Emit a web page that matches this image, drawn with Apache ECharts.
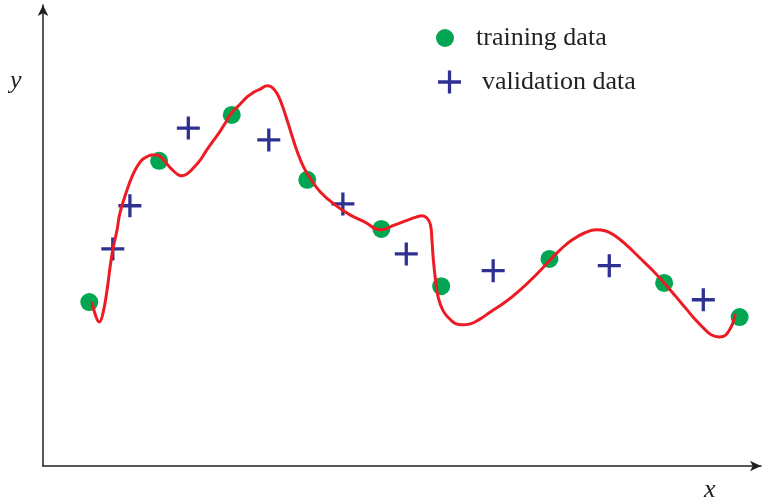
<!DOCTYPE html>
<html>
<head>
<meta charset="utf-8">
<script src="https://cdn.jsdelivr.net/npm/echarts@6/dist/echarts.min.js"></script>
<style>
  html, body { margin: 0; padding: 0; background: #fff; }
  #chart { width: 762px; height: 500px; }
</style>
</head>
<body>
<div id="chart"></div>
<script>
// Training samples (x, y)
const trainX = [0.65, 1.63, 2.65, 3.71, 4.75, 5.59, 7.11, 8.72, 9.78];
const trainY = [3.61, 6.72, 7.73, 6.30, 5.22, 3.96, 4.56, 4.03, 3.28];

// Validation samples (x, y)
const validX = [0.98, 1.22, 2.04, 3.17, 4.21, 5.10, 6.32, 7.95, 9.27];
const validY = [4.78, 5.73, 7.44, 7.18, 5.77, 4.67, 4.30, 4.41, 3.66];

// Over-fitted model curve (x, y)
const fitX = [0.69, 0.73, 0.79, 0.84, 0.90, 0.94, 0.98, 1.04, 1.08, 1.18, 1.26, 1.32, 1.39, 1.46, 1.53, 1.60,
  1.67, 1.74, 1.83, 1.90, 1.95, 2.02, 2.11, 2.21, 2.30, 2.39, 2.49, 2.57, 2.65, 2.77, 2.87, 2.95, 3.05, 3.15,
  3.22, 3.29, 3.36, 3.43, 3.50, 3.57, 3.65, 3.75, 3.89, 4.10, 4.31, 4.52, 4.73, 4.94, 5.13, 5.24, 5.32, 5.39,
  5.44, 5.46, 5.48, 5.51, 5.55, 5.62, 5.72, 5.80, 5.88, 6.00, 6.14, 6.28, 6.49, 6.70, 6.91, 7.11, 7.26, 7.43,
  7.60, 7.77, 7.89, 8.03, 8.20, 8.38, 8.55, 8.72, 8.88, 9.03, 9.16, 9.27, 9.38, 9.49, 9.56, 9.62, 9.68, 9.72];
const fitY = [3.61, 3.35, 3.17, 3.35, 3.88, 4.36, 4.76, 5.20, 5.57, 6.08, 6.41, 6.59, 6.74, 6.81, 6.85, 6.85,
  6.78, 6.65, 6.50, 6.41, 6.39, 6.43, 6.56, 6.74, 6.96, 7.16, 7.38, 7.58, 7.78, 7.97, 8.13, 8.22, 8.30, 8.37,
  8.33, 8.19, 7.93, 7.60, 7.25, 6.92, 6.61, 6.34, 6.04, 5.75, 5.53, 5.37, 5.20, 5.31, 5.42, 5.48, 5.51, 5.46,
  5.31, 4.98, 4.54, 4.10, 3.70, 3.41, 3.22, 3.13, 3.11, 3.13, 3.24, 3.39, 3.61, 3.88, 4.19, 4.52, 4.76, 4.98,
  5.13, 5.20, 5.18, 5.07, 4.85, 4.58, 4.32, 4.03, 3.74, 3.46, 3.22, 3.04, 2.89, 2.84, 2.86, 2.95, 3.13, 3.35];

const seriesNames = ['training data', 'validation data'];
const axisNames = ['x', 'y'];

const zip = (xs, ys) => xs.map((v, i) => [v, ys[i]]);

const GREEN = '#00a651';
const BLUE = '#2e3192';
const RED = '#ed1c24';
const INK = '#231f20';
const SERIF = '"Liberation Serif", "DejaVu Serif", serif';

// Filled plus-shaped marker
const PLUS = 'path://M9,0 H12 V9 H21 V12 H12 V21 H9 V12 H0 V9 H9 Z';

const chart = echarts.init(document.getElementById('chart'), null, { renderer: 'canvas' });

const axisCommon = {
  type: 'value',
  min: 0,
  axisLine: {
    show: true,
    symbol: ['none', 'arrow'],
    symbolSize: [8, 11],
    lineStyle: { color: INK, width: 1.5 }
  },
  axisTick: { show: false },
  axisLabel: { show: false },
  splitLine: { show: false }
};

chart.setOption({
  animation: false,
  backgroundColor: '#fff',
  grid: { left: 43, right: 1, top: 5, bottom: 34 },
  xAxis: Object.assign({}, axisCommon, { max: 10.08 }),
  yAxis: Object.assign({}, axisCommon, { max: 10.15 }),
  legend: [
    {
      data: [{ name: seriesNames[0], icon: 'circle' }],
      left: 431, top: 20,
      itemWidth: 18, itemHeight: 18,
      textStyle: { fontFamily: SERIF, fontSize: 26, color: INK, padding: [0, 0, 0, 17] },
      selectedMode: false
    },
    {
      data: [{ name: seriesNames[1], icon: PLUS }],
      left: 433, top: 64,
      itemWidth: 23, itemHeight: 23,
      textStyle: { fontFamily: SERIF, fontSize: 26, color: INK, padding: [0, 0, 0, 16] },
      selectedMode: false
    }
  ],
  graphic: [
    {
      type: 'text', left: 10, top: 68,
      style: { text: axisNames[1], font: 'italic 26px ' + SERIF, fill: INK }
    },
    {
      type: 'text', left: 704, top: 477,
      style: { text: axisNames[0], font: 'italic 26px ' + SERIF, fill: INK }
    }
  ],
  series: [
    {
      name: seriesNames[0],
      type: 'scatter',
      data: zip(trainX, trainY),
      symbol: 'circle',
      symbolSize: 18,
      itemStyle: { color: GREEN, opacity: 1 }
    },
    {
      name: seriesNames[1],
      type: 'scatter',
      data: zip(validX, validY),
      symbol: PLUS,
      symbolSize: 23,
      itemStyle: { color: BLUE, opacity: 1 }
    },
    {
      name: 'fit',
      type: 'line',
      data: zip(fitX, fitY),
      smooth: 0.45,
      showSymbol: false,
      symbol: 'none',
      lineStyle: { color: RED, width: 3 },
      z: 5
    }
  ]
});
</script>
</body>
</html>
